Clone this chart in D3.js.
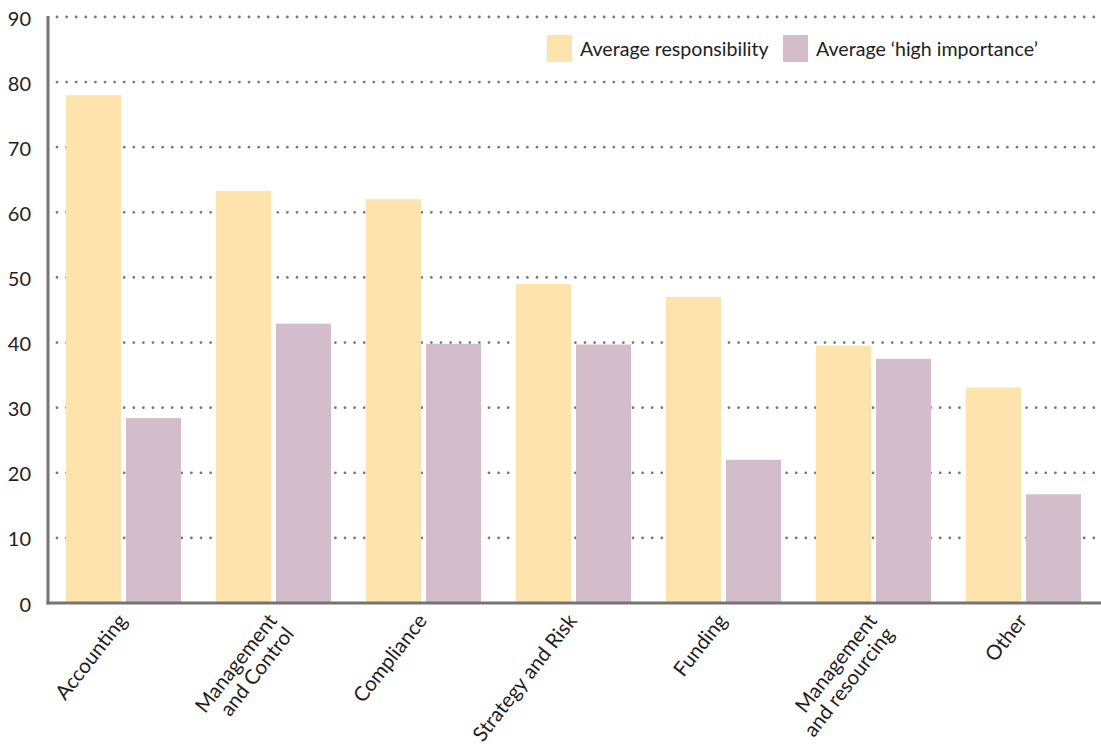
<!DOCTYPE html>
<html lang="en">
<head>
    <meta charset="UTF-8">
    <title>Average responsibility vs high importance</title>
    <script src="https://d3js.org/d3.v7.min.js"></script>
    <style>
        body { margin: 0; background: #fff; }
        svg text { font-family: Lato, "Open Sans", sans-serif; fill: #1e1e1e; }
    </style>
</head>
<body>
    <div id="chart"></div>
    <script>
        // data
        const categories = ["Accounting", "Management and Control", "Compliance", "Strategy and Risk",
            "Funding", "Management and resourcing", "Other"];
        // label lines as they are broken in the picture
        const categoryLines = [["Accounting"], ["Management", "and Control"], ["Compliance"], ["Strategy and Risk"],
            ["Funding"], ["Management", "and resourcing"], ["Other"]];
        const seriesNames = ["Average responsibility", "Average \u2018high importance\u2019"];
        const responsibility = [78, 63.3, 62, 49, 47, 39.5, 33.1];
        const highImportance = [28.4, 42.9, 39.8, 39.7, 22, 37.5, 16.7];
        const yTicks = [0, 10, 20, 30, 40, 50, 60, 70, 80, 90];
        const colors = ["#fee3ad", "#d4bdca"];

        const width = 1101, height = 749;
        const plotLeft = 48, plotRight = 1098, plotTop = 17, plotBottom = 603;

        const svg = d3.select("#chart").append("svg")
            .attr("width", width)
            .attr("height", height);

        const x0 = d3.scaleBand().domain(categories).range([plotLeft, plotRight]).padding(0);
        const x1 = d3.scaleBand().domain(seriesNames).range([18, 133]).paddingInner(5 / 60).paddingOuter(0);
        const y = d3.scaleLinear().domain([0, 90]).range([plotBottom, plotTop]);

        // dotted grid lines
        svg.append("g").selectAll("line")
            .data(yTicks.filter(d => d > 0))
            .enter().append("line")
            .attr("x1", 57)
            .attr("x2", width)
            .attr("y1", d => y(d))
            .attr("y2", d => y(d))
            .attr("stroke", "#777")
            .attr("stroke-width", 2.8)
            .attr("stroke-linecap", "round")
            .attr("stroke-dasharray", "0 9.6");

        // bars
        const rows = categories.map((c, i) => ({ cat: c, vals: [responsibility[i], highImportance[i]] }));
        svg.append("g").selectAll("g")
            .data(rows)
            .enter().append("g")
            .attr("transform", d => `translate(${x0(d.cat)},0)`)
            .selectAll("rect")
            .data(d => d.vals.map((v, j) => ({ key: seriesNames[j], v: v, j: j })))
            .enter().append("rect")
            .attr("x", d => x1(d.key))
            .attr("width", x1.bandwidth())
            .attr("y", d => y(d.v))
            .attr("height", d => y(0) - y(d.v))
            .attr("fill", d => colors[d.j]);

        // y axis labels
        const yAxis = svg.append("g")
            .attr("transform", `translate(${plotLeft},0)`)
            .call(d3.axisLeft(y).tickValues(yTicks).tickSize(0).tickPadding(17));
        yAxis.select(".domain").remove();
        yAxis.selectAll("text").style("font-size", "20px").attr("dy", "0.4em");

        // axis lines
        svg.append("line")
            .attr("x1", plotLeft).attr("x2", plotLeft)
            .attr("y1", plotTop - 1).attr("y2", plotBottom + 1.5)
            .attr("stroke", "#747474").attr("stroke-width", 3);
        svg.append("line")
            .attr("x1", plotLeft - 1.5).attr("x2", width)
            .attr("y1", plotBottom).attr("y2", plotBottom)
            .attr("stroke", "#747474").attr("stroke-width", 3);

        // category labels, rotated
        const xl = svg.append("g").selectAll("text")
            .data(categories)
            .enter().append("text")
            .attr("transform", d => `translate(${x0(d) + x0.bandwidth() / 2 + 5},${plotBottom + 18}) rotate(-52)`)
            .attr("text-anchor", "end")
            .style("font-size", "20.5px");
        xl.selectAll("tspan")
            .data((d, i) => categoryLines[i])
            .enter().append("tspan")
            .attr("x", 0)
            .attr("dy", (d, i) => i === 0 ? 0 : "1.05em")
            .text(d => d);

        // legend
        const legendX = [547, 783];
        const lg = svg.append("g").selectAll("g")
            .data(seriesNames)
            .enter().append("g")
            .attr("transform", (d, i) => `translate(${legendX[i]},35)`);
        lg.append("rect")
            .attr("width", 25).attr("height", 27)
            .attr("fill", (d, i) => colors[i]);
        lg.append("text")
            .attr("x", 33).attr("y", 21)
            .style("font-size", "19.6px")
            .text(d => d);
    </script>
</body>
</html>
